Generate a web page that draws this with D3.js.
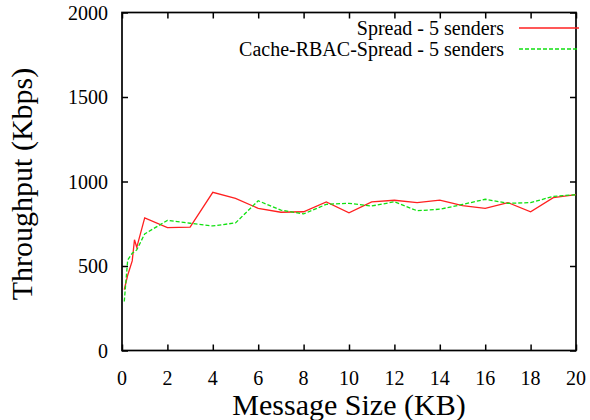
<!DOCTYPE html>
<html>
<head>
<meta charset="utf-8">
<script src="https://cdn.jsdelivr.net/npm/d3@7"></script>
<style>
  body { margin: 0; background: #fff; }
  svg text { font-family: "Liberation Serif", "Times New Roman", Times, "DejaVu Serif", "Noto Serif", serif; }
</style>
</head>
<body>
<div id="chart"></div>
<script>
// data
const spreadX = [0.1, 0.25, 0.45, 0.55, 0.65, 1, 2, 3, 4, 5, 6, 7, 8, 9, 10, 11, 12, 13, 14, 15, 16, 17, 18, 19, 20]
const spreadY = [360, 445, 530, 655, 610, 785, 727, 730, 936, 900, 841, 818, 821, 879, 815, 879, 889, 875, 890, 857, 841, 875, 821, 904, 922]
const cacheX = [0.1, 0.25, 0.45, 0.65, 1, 2, 3, 4, 5, 6, 7, 8, 9, 10, 11, 12, 13, 14, 15, 16, 17, 18, 19, 20]
const cacheY = [290, 535, 575, 595, 690, 770, 753, 737, 755, 886, 831, 808, 865, 871, 855, 880, 827, 836, 864, 895, 871, 875, 912, 922]
const seriesNames = ['Spread - 5 senders', 'Cache-RBAC-Spread - 5 senders']
const xTicks = [0, 2, 4, 6, 8, 10, 12, 14, 16, 18, 20]
const yTicks = [0, 500, 1000, 1500, 2000]

const w = 590
const h = 420
const pLeft = 122, pRight = 576, pTop = 12.5, pBottom = 350.5
const serif = '"Liberation Serif", "Times New Roman", Times, "DejaVu Serif", serif'

const svg = d3.select('#chart').append('svg')
    .attr('width', w)
    .attr('height', h)
    .style('display', 'block')

const xScale = d3.scaleLinear().domain([0, 20]).range([pLeft, pRight])
const yScale = d3.scaleLinear().domain([0, 2000]).range([pBottom, pTop])

// inward ticks on all four sides (gnuplot style)
const tickLen = 6
svg.append('g')
    .attr('transform', 'translate(0,' + pBottom + ')')
    .call(d3.axisBottom(xScale).tickValues(xTicks).tickSizeInner(-tickLen).tickSizeOuter(0).tickFormat(''))
svg.append('g')
    .attr('transform', 'translate(0,' + pTop + ')')
    .call(d3.axisTop(xScale).tickValues(xTicks).tickSizeInner(-tickLen).tickSizeOuter(0).tickFormat(''))
svg.append('g')
    .attr('transform', 'translate(' + pLeft + ',0)')
    .call(d3.axisLeft(yScale).tickValues(yTicks).tickSizeInner(-tickLen).tickSizeOuter(0).tickFormat(''))
svg.append('g')
    .attr('transform', 'translate(' + pRight + ',0)')
    .call(d3.axisRight(yScale).tickValues(yTicks).tickSizeInner(-tickLen).tickSizeOuter(0).tickFormat(''))

svg.selectAll('.domain').remove()
svg.selectAll('.tick line').attr('stroke', '#000').attr('stroke-width', 1.5)

// tick labels
svg.selectAll('.xlab')
    .data(xTicks)
    .enter()
    .append('text')
    .attr('x', d => xScale(d))
    .attr('y', 385)
    .attr('text-anchor', 'middle')
    .attr('font-family', serif)
    .attr('font-size', '20px')
    .text(d => d)

svg.selectAll('.ylab')
    .data(yTicks)
    .enter()
    .append('text')
    .attr('x', 108)
    .attr('y', d => yScale(d) + 7)
    .attr('text-anchor', 'end')
    .attr('font-family', serif)
    .attr('font-size', '20px')
    .text(d => d)

// border
svg.append('rect')
    .attr('x', pLeft)
    .attr('y', pTop)
    .attr('width', pRight - pLeft)
    .attr('height', pBottom - pTop)
    .attr('fill', 'none')
    .attr('stroke', '#000')
    .attr('stroke-width', 1.7)

// axis titles
svg.append('text')
    .attr('x', (pLeft + pRight) / 2)
    .attr('y', 415)
    .attr('text-anchor', 'middle')
    .attr('font-family', serif)
    .attr('font-size', '30px')
    .text('Message Size (KB)')

svg.append('text')
    .attr('transform', 'translate(32,' + 184 + ') rotate(-90)')
    .attr('text-anchor', 'middle')
    .attr('font-family', serif)
    .attr('font-size', '30px')
    .text('Throughput (Kbps)')

// lines
const line = d3.line()
    .x(d => xScale(d[0]))
    .y(d => yScale(d[1]))

svg.append('path')
    .datum(spreadX.map((x, i) => [x, spreadY[i]]))
    .attr('d', line)
    .attr('fill', 'none')
    .attr('stroke', '#ff2020')
    .attr('stroke-width', 1.3)

svg.append('path')
    .datum(cacheX.map((x, i) => [x, cacheY[i]]))
    .attr('d', line)
    .attr('fill', 'none')
    .attr('stroke', '#10e010')
    .attr('stroke-width', 1.3)
    .attr('stroke-dasharray', '4,2')

// legend
const legendY = [28, 49]
const legendStyle = [
    {color: '#ff2020', dash: null},
    {color: '#10e010', dash: '4,2'}
]
seriesNames.forEach(function(name, i){
    svg.append('text')
        .attr('x', 504)
        .attr('y', legendY[i] + 7)
        .attr('text-anchor', 'end')
        .attr('font-family', serif)
        .attr('font-size', '20px')
        .text(name)
    svg.append('line')
        .attr('x1', 519)
        .attr('x2', 579)
        .attr('y1', legendY[i])
        .attr('y2', legendY[i])
        .attr('stroke', legendStyle[i].color)
        .attr('stroke-width', 1.3)
        .attr('stroke-dasharray', legendStyle[i].dash)
})
</script>
</body>
</html>
